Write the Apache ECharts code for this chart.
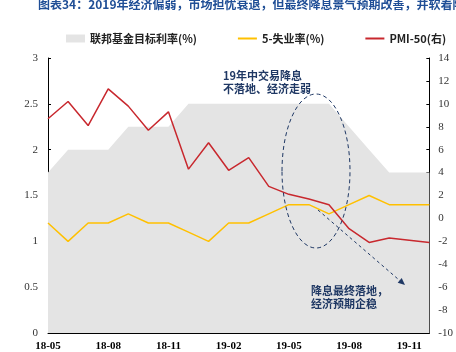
<!DOCTYPE html>
<html>
<head>
<meta charset="utf-8">
<script src="https://cdn.jsdelivr.net/npm/echarts@6/dist/echarts.min.js"></script>
<style>
  html, body { margin: 0; padding: 0; background: #fff; }
  #echart { width: 456px; height: 352px; }
</style>
</head>
<body>
<div id="echart"></div>
<script>
let echart = echarts.init(document.getElementById('echart'))

// 月份
let months = ['18-05', '18-06', '18-07', '18-08', '18-09', '18-10', '18-11', '18-12',
    '19-01', '19-02', '19-03', '19-04', '19-05', '19-06', '19-07', '19-08',
    '19-09', '19-10', '19-11', '19-12']
// 联邦基金目标利率(%)
let fedRate = [1.75, 2, 2, 2, 2.25, 2.25, 2.25, 2.5, 2.5, 2.5, 2.5, 2.5, 2.5, 2.5,
    2.5, 2.25, 2, 1.75, 1.75, 1.75]
// 5-失业率(%)
let unemp = [1.2, 1.0, 1.2, 1.2, 1.3, 1.2, 1.2, 1.1, 1.0, 1.2, 1.2, 1.3, 1.4, 1.4,
    1.3, 1.4, 1.5, 1.4, 1.4, 1.4]
// PMI-50(右)
let pmi = [8.7, 10.2, 8.1, 11.3, 9.8, 7.7, 9.3, 4.3, 6.6, 4.2, 5.3, 2.8, 2.1, 1.7,
    1.2, -0.9, -2.1, -1.7, -1.9, -2.1]

let navy = '#1f3864'
let serif = '"Liberation Serif", "Times New Roman", serif'
let cjk = '"Noto Sans CJK SC", sans-serif'
let noDot = { color: 'rgba(0,0,0,0)', borderWidth: 0 }

let option = {
    animation: false,
    title: {
        text: '图表34：2019年经济偏弱，市场担忧衰退，但最终降息景气预期改善，并软着陆',
        left: 33,
        top: -7,
        textStyle: { color: '#1f4e96', fontSize: 12, fontWeight: 'bold', fontFamily: cjk }
    },
    legend: {
        left: 61,
        top: 28,
        itemGap: 40,
        itemWidth: 19,
        itemHeight: 8,
        textStyle: { color: '#222', fontSize: 11, fontWeight: 'bold', fontFamily: cjk },
        data: [
            { name: '联邦基金目标利率(%)', icon: 'rect' },
            { name: '5-失业率(%)', itemStyle: noDot },
            { name: 'PMI-50(右)', itemStyle: noDot }
        ]
    },
    grid: { left: 48, right: 22, top: 58, bottom: 17 },
    xAxis: {
        type: 'category',
        data: months,
        boundaryGap: false,
        axisLine: { lineStyle: { color: '#000', width: 1 } },
        axisTick: { show: false },
        axisLabel: {
            interval: 2,
            margin: 8,
            color: '#000',
            fontSize: 11,
            fontWeight: 'bold',
            fontFamily: serif
        }
    },
    yAxis: [
        {
            type: 'value',
            min: 0, max: 3, interval: 0.5,
            splitLine: { show: false },
            axisLine: { show: true, lineStyle: { color: '#000' } },
            axisTick: { show: true, inside: true, length: 3, lineStyle: { color: '#000' } },
            axisLabel: { margin: 10, color: '#333', fontSize: 11, fontFamily: serif }
        },
        {
            type: 'value',
            min: -10, max: 14, interval: 2,
            splitLine: { show: false },
            axisLine: { show: true, lineStyle: { color: '#000' } },
            axisTick: { show: true, inside: true, length: 3, lineStyle: { color: '#000' } },
            axisLabel: { margin: 9, color: '#333', fontSize: 11, fontFamily: serif }
        }
    ],
    series: [
        {
            name: '联邦基金目标利率(%)',
            type: 'line',
            data: fedRate,
            symbol: 'none',
            lineStyle: { width: 0 },
            itemStyle: { color: '#e4e4e4' },
            areaStyle: { color: '#e4e4e4', opacity: 1 },
            z: 1
        },
        {
            name: '5-失业率(%)',
            type: 'line',
            data: unemp,
            symbol: 'none',
            itemStyle: { color: '#ffc000' },
            lineStyle: { color: '#ffc000', width: 1.5 },
            z: 3
        },
        {
            name: 'PMI-50(右)',
            type: 'line',
            yAxisIndex: 1,
            data: pmi,
            symbol: 'none',
            itemStyle: { color: '#c8282e' },
            lineStyle: { color: '#c8282e', width: 1.5 },
            z: 4
        }
    ],
    graphic: [
        {
            type: 'ellipse',
            shape: { cx: 316, cy: 171, rx: 34, ry: 77 },
            style: { fill: 'none', stroke: navy, lineWidth: 1, lineDash: [4, 3] },
            z: 10
        },
        {
            type: 'line',
            shape: { x1: 318, y1: 210, x2: 402, y2: 282.5 },
            style: { stroke: navy, lineWidth: 1, lineDash: [3, 3] },
            z: 10
        },
        {
            type: 'polygon',
            shape: { points: [[405, 285], [397.7, 282.7], [401.7, 278.1]] },
            style: { fill: navy },
            z: 10
        },
        {
            type: 'text',
            x: 223, y: 69,
            style: {
                text: '19年中交易降息\n不落地、经济走弱',
                fill: navy,
                font: 'bold 11px "Noto Sans CJK SC", sans-serif',
                lineHeight: 13
            },
            z: 10
        },
        {
            type: 'text',
            x: 311, y: 284,
            style: {
                text: '降息最终落地，\n经济预期企稳',
                fill: navy,
                font: 'bold 11px "Noto Sans CJK SC", sans-serif',
                lineHeight: 13
            },
            z: 10
        }
    ]
};

echart.setOption(option);
</script>
</body>
</html>
